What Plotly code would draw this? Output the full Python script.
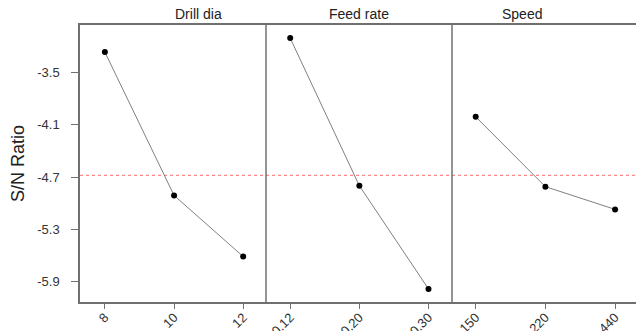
import plotly.graph_objects as go
from plotly.subplots import make_subplots

panel_titles = ["Drill dia", "Feed rate", "Speed"]
drill_levels = ["8", "10", "12"]
feed_levels = ["0.12", "0.20", "0.30"]
speed_levels = ["150", "220", "440"]
drill_sn = [-3.27, -4.91, -5.61]
feed_sn = [-3.11, -4.80, -5.98]
speed_sn = [-4.01, -4.81, -5.07]
mean_sn = -4.68
y_ticks = [-3.5, -4.1, -4.7, -5.3, -5.9]

levels = [drill_levels, feed_levels, speed_levels]
values = [drill_sn, feed_sn, speed_sn]

W, H = 636, 331
L, R, T, B = 80, 0, 25, 29
fig = make_subplots(rows=1, cols=3, shared_yaxes=True, horizontal_spacing=0)

plot_w = W - L - R
bounds = [(0, 186), (186, 372), (372, plot_w)]
xranges = [[-0.36, 2.33], [-0.35, 2.34], [-0.34, 2.30]]
FONT = "Liberation Sans, Arial"
AXC = "#707070"

for i in range(3):
    idx = list(range(len(levels[i])))
    fig.add_trace(go.Scatter(
        x=idx, y=values[i], mode="lines+markers",
        line=dict(color="#808080", width=1),
        marker=dict(color="black", size=6),
        showlegend=False, hoverinfo="skip"), row=1, col=i + 1)
    ax = "xaxis" if i == 0 else f"xaxis{i+1}"
    fig.layout[ax].update(
        domain=[bounds[i][0] / plot_w, bounds[i][1] / plot_w],
        range=xranges[i], tickmode="array", tickvals=idx, ticktext=levels[i],
        tickangle=-45, ticks="outside", ticklen=5, tickcolor=AXC, tickwidth=1,
        ticklabelstandoff=-4,
        showline=True, linecolor=AXC, linewidth=1.5, mirror=True,
        showgrid=False, zeroline=False,
        tickfont=dict(family=FONT, size=13, color="#333"),
        automargin=False)
    ay = "yaxis" if i == 0 else f"yaxis{i+1}"
    fig.layout[ay].update(
        range=[-6.13, -2.96], tickmode="array", tickvals=y_ticks,
        ticktext=[f"{v:.1f}" for v in y_ticks],
        ticks="outside" if i == 0 else "", ticklen=7, tickcolor=AXC, tickwidth=1,
        showticklabels=(i == 0),
        showline=(i == 0), linecolor=AXC, linewidth=1.5, mirror=False,
        showgrid=False, zeroline=False,
        tickfont=dict(family=FONT, size=13, color="#333"),
        automargin=False)
    fig.add_annotation(
        x=(bounds[i][0] + bounds[i][1]) / 2 / plot_w, y=1, xref="paper", yref="paper",
        yanchor="bottom", yshift=1, showarrow=False, text=panel_titles[i],
        font=dict(family=FONT, size=14, color="#222"))
    if i > 0:
        fig.add_shape(type="line", xref="paper", yref="paper",
                      x0=bounds[i][0] / plot_w, x1=bounds[i][0] / plot_w, y0=0, y1=1,
                      line=dict(color=AXC, width=1.5))

fig.layout.yaxis.update(ticklabelstandoff=9,
                        title=dict(text="S/N Ratio", standoff=8,
                                   font=dict(family=FONT, size=18, color="#222")))

fig.add_shape(type="line", xref="paper", yref="y", x0=0, x1=1, y0=mean_sn, y1=mean_sn,
              line=dict(color="#ff6a6a", width=1, dash="dot"), layer="below")

fig.update_layout(width=W, height=H, margin=dict(l=L, r=R, t=T, b=B),
                  plot_bgcolor="white", paper_bgcolor="white")
fig.write_html("out.html", config={"displayModeBar": False},
               post_script="document.body.style.margin='0';document.body.style.overflow='hidden';")
